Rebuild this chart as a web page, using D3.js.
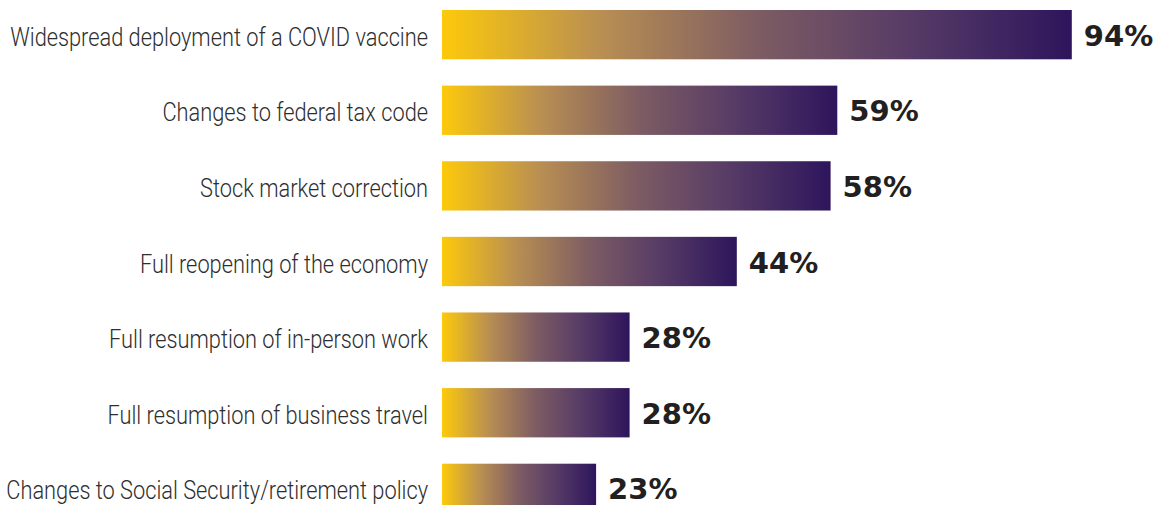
<!DOCTYPE html>
<html>
<head>
<meta charset="utf-8">
<script src="https://cdn.jsdelivr.net/npm/d3@7"></script>
<style>
  body { margin: 0; background: #fff; }
</style>
</head>
<body>
<div id="chart"></div>
<script>
// Chart size
var chart_width  = 1157;
var chart_height = 505;

// Data
var categories = [
  'Widespread deployment of a COVID vaccine',
  'Changes to federal tax code',
  'Stock market correction',
  'Full reopening of the economy',
  'Full resumption of in-person work',
  'Full resumption of business travel',
  'Changes to Social Security/retirement policy'
];
var values = [94, 59, 58, 44, 28, 28, 23];

var bar_left = 442;
var label_right = 428;

var svg = d3.select('#chart')
  .append('svg')
  .attr('width', chart_width)
  .attr('height', chart_height);

// Gradient used by every bar
var grad = svg.append('defs')
  .append('linearGradient')
  .attr('id', 'bar-grad')
  .attr('x1', '0%').attr('x2', '100%')
  .attr('y1', '0%').attr('y2', '0%');

[
  [0, '#fdc90b'],
  [0.25, '#b98f52'],
  [0.5, '#7d5c63'],
  [0.75, '#553a66'],
  [1, '#2e155c']
].forEach(function(s) {
  grad.append('stop').attr('offset', s[0]).attr('stop-color', s[1]);
});

// Scales
var x = d3.scaleLinear().domain([0, 100]).range([0, 670]);
var y = d3.scaleBand()
  .domain(categories)
  .range([10, 513])
  .paddingInner(0.348)
  .paddingOuter(0);

var rows = categories.map(function(c, i) { return { cat: c, val: values[i] }; });

// Bars
svg.selectAll('rect.bar')
  .data(rows)
  .enter()
  .append('rect')
  .attr('class', 'bar')
  .attr('x', bar_left)
  .attr('y', function(d) { return y(d.cat); })
  .attr('width', function(d) { return x(d.val); })
  .attr('height', y.bandwidth())
  .attr('fill', 'url(#bar-grad)');

// Category labels (condensed look: squeeze Roboto horizontally)
var cats = svg.selectAll('text.cat')
  .data(rows)
  .enter()
  .append('text')
  .attr('class', 'cat')
  .attr('x', 0)
  .attr('y', 0)
  .attr('dy', '0.36em')
  .attr('text-anchor', 'end')
  .attr('font-family', 'Roboto, sans-serif')
  .attr('font-weight', 300)
  .attr('font-size', 25)
  .attr('fill', '#2e2e2e')
  .text(function(d) { return d.cat; });

// first label spans about 415px in the reference
var squeeze = 418 / cats.node().getComputedTextLength();
cats.attr('transform', function(d) {
  return 'translate(' + label_right + ',' + (y(d.cat) + y.bandwidth() / 2 + 2) + ') scale(' + squeeze + ',1)';
});

// Value labels
svg.selectAll('text.val')
  .data(rows)
  .enter()
  .append('text')
  .attr('class', 'val')
  .attr('x', function(d) { return bar_left + x(d.val) + 12; })
  .attr('y', function(d) { return y(d.cat) + y.bandwidth() / 2 + 11; })
  .attr('font-family', '"DejaVu Sans", sans-serif')
  .attr('font-weight', 'bold')
  .attr('font-size', 29)
  .attr('fill', '#231f20')
  .text(function(d) { return d.val + '%'; });
</script>
</body>
</html>
